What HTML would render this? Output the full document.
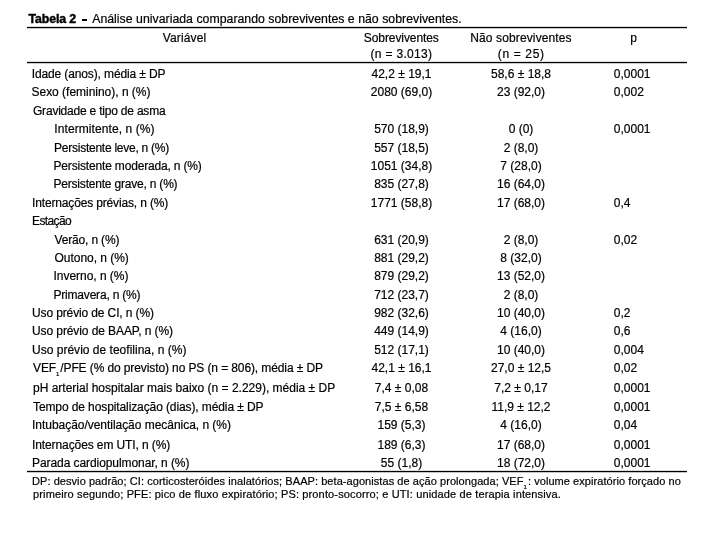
<!DOCTYPE html>
<html><head><meta charset="utf-8"><style>
html,body{margin:0;padding:0;background:#fff;}
body{width:710px;height:535px;position:relative;overflow:hidden;font-family:"Liberation Sans",sans-serif;color:#000;}
#w{position:absolute;left:0;top:0;width:710px;height:535px;will-change:transform;}
#w div{-webkit-text-stroke:0.2px #000;}
#w b{-webkit-text-stroke:0.45px #000;}
div{position:absolute;white-space:nowrap;}
.c{width:200px;text-align:center;}
.r{left:27px;width:660px;height:1px;background:#000;box-shadow:0 1px 0 rgba(0,0,0,.22),0 -1px 0 rgba(0,0,0,.15);}
sub{font-size:6px;vertical-align:-4px;line-height:0;margin:0 1px 0 0;}
</style></head><body><div id="w">
<div style="left:28.6px;top:13.3px;font-size:12.3px;line-height:12.3px;letter-spacing:-0.114px;"><b>Tabela 2</b></div>
<div style="left:92.2px;top:13.3px;font-size:12.3px;line-height:12.3px;letter-spacing:0.016px;">Análise univariada comparando sobreviventes e não sobreviventes.</div>
<div class="r" style="top:27px"></div>
<div style="left:82px;top:19px;width:5px;height:2px;background:#000"></div>
<div class="c" style="left:84.5px;top:31.7px;font-size:12px;line-height:12px;letter-spacing:0.143px;">Variável</div>
<div class="c" style="left:301.3px;top:31.7px;font-size:12px;line-height:12px;letter-spacing:-0.083px;">Sobreviventes</div>
<div class="c" style="left:301.4px;top:48.2px;font-size:12px;line-height:12px;letter-spacing:0.32px;">(n = 3.013)</div>
<div class="c" style="left:421px;top:31.7px;font-size:12px;line-height:12px;letter-spacing:0.125px;">Não sobreviventes</div>
<div class="c" style="left:421.2px;top:48.2px;font-size:12px;line-height:12px;letter-spacing:0.643px;">(n = 25)</div>
<div class="c" style="left:533.5px;top:31.7px;font-size:12px;line-height:12px;">p</div>
<div class="r" style="top:62px"></div>
<div style="left:31.7px;top:67.9px;font-size:12px;line-height:12px;letter-spacing:-0.122px;">Idade (anos), média ± DP</div>
<div class="c" style="left:301.5px;top:67.9px;font-size:12px;line-height:12px;">42,2 ± 19,1</div>
<div class="c" style="left:421px;top:67.9px;font-size:12px;line-height:12px;">58,6 ± 18,8</div>
<div style="left:613.8px;top:67.9px;font-size:12px;line-height:12px;">0,0001</div>
<div style="left:31.5px;top:86.0px;font-size:12px;line-height:12px;letter-spacing:-0.019px;">Sexo (feminino), n (%)</div>
<div class="c" style="left:301.5px;top:86.0px;font-size:12px;line-height:12px;">2080 (69,0)</div>
<div class="c" style="left:421px;top:86.0px;font-size:12px;line-height:12px;">23 (92,0)</div>
<div style="left:613.8px;top:86.0px;font-size:12px;line-height:12px;">0,002</div>
<div style="left:33.0px;top:104.6px;font-size:12px;line-height:12px;letter-spacing:-0.209px;">Gravidade e tipo de asma</div>
<div style="left:54.3px;top:122.9px;font-size:12px;line-height:12px;letter-spacing:0.089px;">Intermitente, n (%)</div>
<div class="c" style="left:301.5px;top:122.9px;font-size:12px;line-height:12px;">570 (18,9)</div>
<div class="c" style="left:421px;top:122.9px;font-size:12px;line-height:12px;">0 (0)</div>
<div style="left:613.8px;top:122.9px;font-size:12px;line-height:12px;">0,0001</div>
<div style="left:54.1px;top:141.6px;font-size:12px;line-height:12px;letter-spacing:-0.255px;">Persistente leve, n (%)</div>
<div class="c" style="left:301.5px;top:141.6px;font-size:12px;line-height:12px;">557 (18,5)</div>
<div class="c" style="left:421px;top:141.6px;font-size:12px;line-height:12px;">2 (8,0)</div>
<div style="left:53.5px;top:160.0px;font-size:12px;line-height:12px;letter-spacing:-0.169px;">Persistente moderada, n (%)</div>
<div class="c" style="left:301.5px;top:160.0px;font-size:12px;line-height:12px;">1051 (34,8)</div>
<div class="c" style="left:421px;top:160.0px;font-size:12px;line-height:12px;">7 (28,0)</div>
<div style="left:53.5px;top:177.9px;font-size:12px;line-height:12px;letter-spacing:-0.2px;">Persistente grave, n (%)</div>
<div class="c" style="left:301.5px;top:177.9px;font-size:12px;line-height:12px;">835 (27,8)</div>
<div class="c" style="left:421px;top:177.9px;font-size:12px;line-height:12px;">16 (64,0)</div>
<div style="left:32.0px;top:196.6px;font-size:12px;line-height:12px;letter-spacing:-0.152px;">Internações prévias, n (%)</div>
<div class="c" style="left:301.5px;top:196.6px;font-size:12px;line-height:12px;">1771 (58,8)</div>
<div class="c" style="left:421px;top:196.6px;font-size:12px;line-height:12px;">17 (68,0)</div>
<div style="left:613.8px;top:196.6px;font-size:12px;line-height:12px;">0,4</div>
<div style="left:32.0px;top:214.6px;font-size:12px;line-height:12px;letter-spacing:-0.6px;">Estação</div>
<div style="left:54.5px;top:233.5px;font-size:12px;line-height:12px;letter-spacing:-0.164px;">Verão, n (%)</div>
<div class="c" style="left:301.5px;top:233.5px;font-size:12px;line-height:12px;">631 (20,9)</div>
<div class="c" style="left:421px;top:233.5px;font-size:12px;line-height:12px;">2 (8,0)</div>
<div style="left:613.8px;top:233.5px;font-size:12px;line-height:12px;">0,02</div>
<div style="left:54.5px;top:251.6px;font-size:12px;line-height:12px;letter-spacing:-0.033px;">Outono, n (%)</div>
<div class="c" style="left:301.5px;top:251.6px;font-size:12px;line-height:12px;">881 (29,2)</div>
<div class="c" style="left:421px;top:251.6px;font-size:12px;line-height:12px;">8 (32,0)</div>
<div style="left:53.5px;top:270.0px;font-size:12px;line-height:12px;letter-spacing:-0.031px;">Inverno, n (%)</div>
<div class="c" style="left:301.5px;top:270.0px;font-size:12px;line-height:12px;">879 (29,2)</div>
<div class="c" style="left:421px;top:270.0px;font-size:12px;line-height:12px;">13 (52,0)</div>
<div style="left:53.5px;top:288.7px;font-size:12px;line-height:12px;letter-spacing:-0.2px;">Primavera, n (%)</div>
<div class="c" style="left:301.5px;top:288.7px;font-size:12px;line-height:12px;">712 (23,7)</div>
<div class="c" style="left:421px;top:288.7px;font-size:12px;line-height:12px;">2 (8,0)</div>
<div style="left:32.0px;top:306.9px;font-size:12px;line-height:12px;letter-spacing:-0.127px;">Uso prévio de CI, n (%)</div>
<div class="c" style="left:301.5px;top:306.9px;font-size:12px;line-height:12px;">982 (32,6)</div>
<div class="c" style="left:421px;top:306.9px;font-size:12px;line-height:12px;">10 (40,0)</div>
<div style="left:613.8px;top:306.9px;font-size:12px;line-height:12px;">0,2</div>
<div style="left:32.0px;top:325.0px;font-size:12px;line-height:12px;letter-spacing:-0.092px;">Uso prévio de BAAP, n (%)</div>
<div class="c" style="left:301.5px;top:325.0px;font-size:12px;line-height:12px;">449 (14,9)</div>
<div class="c" style="left:421px;top:325.0px;font-size:12px;line-height:12px;">4 (16,0)</div>
<div style="left:613.8px;top:325.0px;font-size:12px;line-height:12px;">0,6</div>
<div style="left:32.0px;top:343.5px;font-size:12px;line-height:12px;letter-spacing:0.014px;">Uso prévio de teofilina, n (%)</div>
<div class="c" style="left:301.5px;top:343.5px;font-size:12px;line-height:12px;">512 (17,1)</div>
<div class="c" style="left:421px;top:343.5px;font-size:12px;line-height:12px;">10 (40,0)</div>
<div style="left:613.8px;top:343.5px;font-size:12px;line-height:12px;">0,004</div>
<div style="left:33.0px;top:362.2px;font-size:12px;line-height:12px;letter-spacing:-0.106px;">VEF<sub>1</sub>/PFE (% do previsto) no PS (n = 806), média ± DP</div>
<div class="c" style="left:301.5px;top:362.2px;font-size:12px;line-height:12px;">42,1 ± 16,1</div>
<div class="c" style="left:421px;top:362.2px;font-size:12px;line-height:12px;">27,0 ± 12,5</div>
<div style="left:613.8px;top:362.2px;font-size:12px;line-height:12px;">0,02</div>
<div style="left:33.0px;top:381.6px;font-size:12px;line-height:12px;letter-spacing:-0.004px;">pH arterial hospitalar mais baixo (n = 2.229), média ± DP</div>
<div class="c" style="left:301.5px;top:381.6px;font-size:12px;line-height:12px;">7,4 ± 0,08</div>
<div class="c" style="left:421px;top:381.6px;font-size:12px;line-height:12px;">7,2 ± 0,17</div>
<div style="left:613.8px;top:381.6px;font-size:12px;line-height:12px;">0,0001</div>
<div style="left:33.0px;top:401.3px;font-size:12px;line-height:12px;letter-spacing:-0.102px;">Tempo de hospitalização (dias), média ± DP</div>
<div class="c" style="left:301.5px;top:401.3px;font-size:12px;line-height:12px;">7,5 ± 6,58</div>
<div class="c" style="left:421px;top:401.3px;font-size:12px;line-height:12px;">11,9 ± 12,2</div>
<div style="left:613.8px;top:401.3px;font-size:12px;line-height:12px;">0,0001</div>
<div style="left:32.0px;top:419.2px;font-size:12px;line-height:12px;letter-spacing:-0.034px;">Intubação/ventilação mecânica, n (%)</div>
<div class="c" style="left:301.5px;top:419.2px;font-size:12px;line-height:12px;">159 (5,3)</div>
<div class="c" style="left:421px;top:419.2px;font-size:12px;line-height:12px;">4 (16,0)</div>
<div style="left:613.8px;top:419.2px;font-size:12px;line-height:12px;">0,04</div>
<div style="left:32.0px;top:438.9px;font-size:12px;line-height:12px;letter-spacing:-0.1px;">Internações em UTI, n (%)</div>
<div class="c" style="left:301.5px;top:438.9px;font-size:12px;line-height:12px;">189 (6,3)</div>
<div class="c" style="left:421px;top:438.9px;font-size:12px;line-height:12px;">17 (68,0)</div>
<div style="left:613.8px;top:438.9px;font-size:12px;line-height:12px;">0,0001</div>
<div style="left:32.0px;top:456.7px;font-size:12px;line-height:12px;letter-spacing:-0.074px;">Parada cardiopulmonar, n (%)</div>
<div class="c" style="left:301.5px;top:456.7px;font-size:12px;line-height:12px;">55 (1,8)</div>
<div class="c" style="left:421px;top:456.7px;font-size:12px;line-height:12px;">18 (72,0)</div>
<div style="left:613.8px;top:456.7px;font-size:12px;line-height:12px;">0,0001</div>
<div style="left:32.0px;top:475.9px;font-size:11px;line-height:11px;letter-spacing:0.062px;">DP: desvio padrão; CI: corticosteróides inalatórios; BAAP: beta-agonistas de ação prolongada; VEF<sub>1</sub>: volume expiratório forçado no</div>
<div style="left:33.0px;top:489.4px;font-size:11px;line-height:11px;letter-spacing:0.141px;">primeiro segundo; PFE: pico de fluxo expiratório; PS: pronto-socorro; e UTI: unidade de terapia intensiva.</div>
<div class="r" style="top:471px"></div>
</div></body></html>
